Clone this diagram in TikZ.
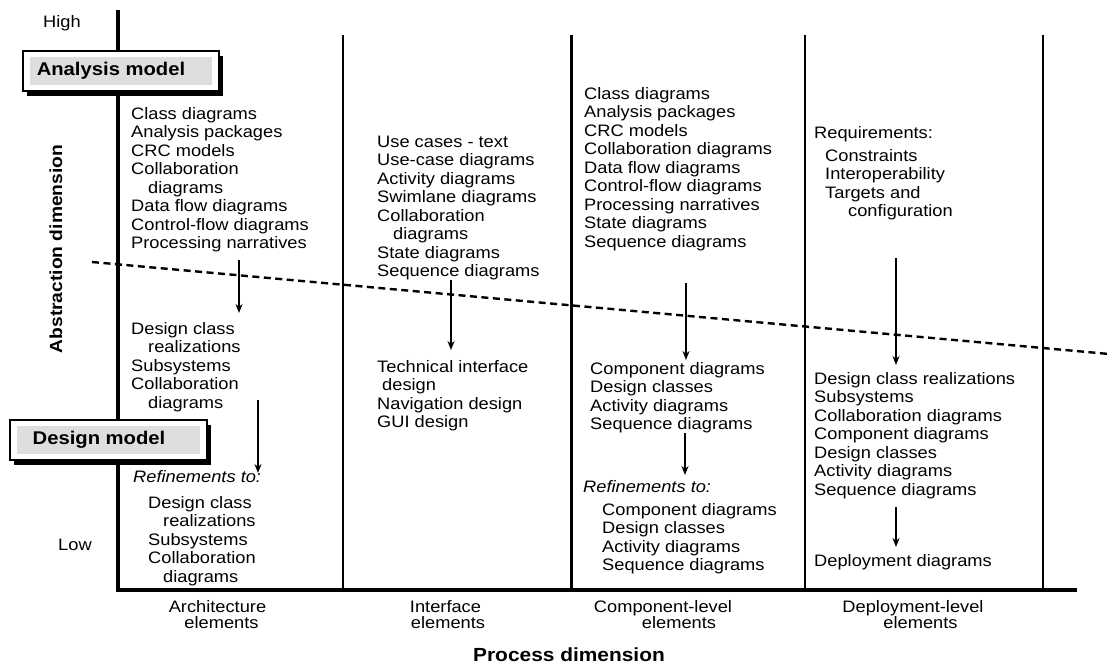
\documentclass[tikz,border=0pt]{standalone}
\usepackage{fontspec}
\setmainfont{Liberation Sans}[FakeStretch=1.1]
\usetikzlibrary{arrows.meta,shadows}

% text sizes used throughout the chart
\newcommand\bodyfont{\fontsize{16.6}{18.5}\selectfont}
\newcommand\elemfont{\fontsize{16.6}{16}\selectfont}
\newcommand\topstrut{\rule{0pt}{13pt}}

\begin{document}
\begin{tikzpicture}[x=1pt,y=-1pt,
  txt/.style={anchor=north west, inner sep=0pt, align=left, font=\bodyfont},
  single/.style={anchor=base west, inner sep=0pt, font=\bodyfont},
  elem/.style={anchor=north, inner sep=0pt, align=center, font=\elemfont},
  heavyaxis/.style={line width=4pt},
  divider/.style={line width=2pt},
  flow/.style={line width=1.6pt, -{Stealth[length=9pt,width=7pt]}},
  dimlabel/.style={inner sep=0pt, font=\fontsize{17.5}{20}\selectfont\bfseries},
  modelbox/.style={draw, line width=1.6pt, fill=white, minimum width=196pt,
    minimum height=40pt, inner sep=0pt,
    font=\fontsize{18.4}{20}\selectfont\bfseries,
    drop shadow={shadow xshift=4pt, shadow yshift=-5pt, fill=black, opacity=1},
    path picture={\fill[black!13]
      ([xshift=7pt,yshift=-6pt]path picture bounding box.north west) rectangle
      ([xshift=-7pt,yshift=6pt]path picture bounding box.south east);}}
]
\useasboundingbox (0,0) rectangle (1109,664);

% axes
\draw[heavyaxis] (118,10) -- (118,590);
\draw[heavyaxis] (116,590) -- (1077,590);

% column dividers
\draw[divider] (343,35) -- (343,590);
\draw[line width=3pt] (571,35) -- (571,590);
\draw[divider] (805,35) -- (805,590);
\draw[line width=2.4pt] (1043,35) -- (1043,590);

% boundary between analysis and design
\coordinate (dashL) at (92,262);
\coordinate (dashR) at (1109,354);
\draw[line width=2.4pt, dash pattern=on 7pt off 4.5pt] (dashL) -- (dashR);

% axis labels
\node[single] (high) at (43,27) {High};
\node[single] (low) at (58,550) {Low};
\node[dimlabel, rotate=90, anchor=base] (absdim) at (62,249) {Abstraction dimension};
\node[dimlabel, anchor=base, font=\fontsize{19}{20}\selectfont\bfseries] (procdim) at (569,661) {Process dimension};

% model boxes
\node[modelbox] (analysis) at (121,71) {Analysis model\hspace*{20pt}};
\node[modelbox, minimum width=197pt] (design) at (108.5,440) {Design model\hspace*{19pt}};

% architecture elements
\node[txt] (archA) at (131,106) {\topstrut Class diagrams\\Analysis packages\\CRC models\\Collaboration\\\hspace*{17pt}diagrams\\Data flow diagrams\\Control-flow diagrams\\Processing narratives};
\node[txt] (archB) at (131,321) {\topstrut Design class\\\hspace*{17pt}realizations\\Subsystems\\Collaboration\\\hspace*{17pt}diagrams};
\node[single, font=\bodyfont\itshape] (archR) at (133,482) {Refinements to:};
\node[txt] (archC) at (148,495) {\topstrut Design class\\\hspace*{15pt}realizations\\Subsystems\\Collaboration\\\hspace*{15pt}diagrams};

% interface elements
\node[txt] (ifA) at (377,134) {\topstrut Use cases - text\\Use-case diagrams\\Activity diagrams\\Swimlane diagrams\\Collaboration\\\hspace*{16pt}diagrams\\State diagrams\\Sequence diagrams};
\node[txt] (ifB) at (377,359) {\topstrut Technical interface\\\hspace*{5pt}design\\Navigation design\\GUI design};

% component-level elements
\node[txt] (cmA) at (584,86) {\topstrut Class diagrams\\Analysis packages\\CRC models\\Collaboration diagrams\\Data flow diagrams\\Control-flow diagrams\\Processing narratives\\State diagrams\\Sequence diagrams};
\node[txt] (cmB) at (590,361) {\topstrut Component diagrams\\Design classes\\Activity diagrams\\Sequence diagrams};
\node[single, font=\bodyfont\itshape] (cmR) at (583,492) {Refinements to:};
\node[txt] (cmC) at (602,502) {\topstrut Component diagrams\\Design classes\\Activity diagrams\\Sequence diagrams};

% deployment-level elements
\node[single] (dpR) at (814,138) {Requirements:};
\node[txt] (dpA) at (825,148) {\topstrut Constraints\\Interoperability\\Targets and\\\hspace*{23pt}configuration};
\node[txt] (dpB) at (814,371) {\topstrut Design class realizations\\Subsystems\\Collaboration diagrams\\Component diagrams\\Design classes\\Activity diagrams\\Sequence diagrams};
\node[single] (dpC) at (814,566) {Deployment diagrams};

% refinement arrows
\coordinate (a1s) at (239,260); \coordinate (a1e) at (239,313);
\coordinate (a2s) at (258,400); \coordinate (a2e) at (258,473);
\coordinate (a3s) at (451,280); \coordinate (a3e) at (451,350);
\coordinate (a4s) at (686,283); \coordinate (a4e) at (686,360);
\coordinate (a5s) at (685,433); \coordinate (a5e) at (685,475);
\coordinate (a6s) at (896,258); \coordinate (a6e) at (896,365);
\coordinate (a7s) at (896,507); \coordinate (a7e) at (896,547);
\foreach \k in {1,...,7} \draw[flow] (a\k s) -- (a\k e);

% process-dimension categories
\node[elem] (archL) at (217.5,599) {\topstrut Architecture\\\hspace*{8pt}elements};
\node[elem] (ifL) at (445.5,599) {\topstrut Interface\\\hspace*{5pt}elements};
\node[elem] (cmL) at (663,599) {\topstrut Component-level\\\hspace*{32pt}elements};
\node[elem] (dpL) at (913,599) {\topstrut Deployment-level\\\hspace*{15pt}elements};

\end{tikzpicture}
\end{document}
